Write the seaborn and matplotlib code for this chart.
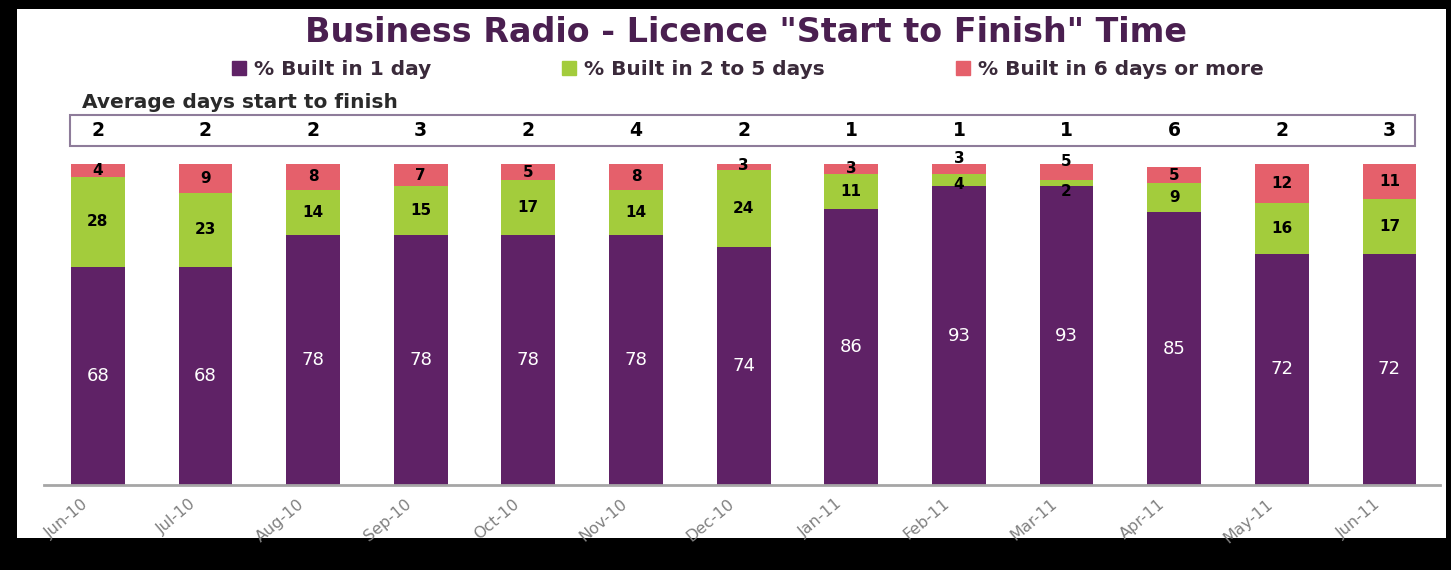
import seaborn as sns
import matplotlib.pyplot as plt
import matplotlib.transforms as mtransforms
from matplotlib.patches import Rectangle
import pandas as pd

months = ['Jun-10', 'Jul-10', 'Aug-10', 'Sep-10', 'Oct-10', 'Nov-10', 'Dec-10',
          'Jan-11', 'Feb-11', 'Mar-11', 'Apr-11', 'May-11', 'Jun-11']
built_1_day = [68, 68, 78, 78, 78, 78, 74, 86, 93, 93, 85, 72, 72]
built_2_5_days = [28, 23, 14, 15, 17, 14, 24, 11, 4, 2, 9, 16, 17]
built_6_plus = [4, 9, 8, 7, 5, 8, 3, 3, 3, 5, 5, 12, 11]
avg_days = [2, 2, 2, 3, 2, 4, 2, 1, 1, 1, 6, 2, 3]

PURPLE = '#5f2266'
GREEN = '#a3cc3c'
RED = '#e5606b'
TITLE = '#4a1f50'

df = pd.DataFrame({'month': months, 'one': built_1_day,
                   'two': built_2_5_days, 'six': built_6_plus})
df['mid'] = df['one'] + df['two']
df['top'] = df['mid'] + df['six']

sns.set_style('white')
plt.rcParams['font.family'] = ['DejaVu Sans']

W, H = 1451, 570
fig = plt.figure(figsize=(W / 100, H / 100), dpi=100, facecolor='black')
fig.patches.append(Rectangle((17 / W, 1 - 538 / H), (1446 - 17) / W, (538 - 9) / H,
                             transform=fig.transFigure, facecolor='white',
                             edgecolor='none', zorder=-1))

ax = fig.add_axes([44 / W, 1 - 485 / H, (1440 - 44) / W, (485 - 164) / H])
ax.set_facecolor('none')

# stacked bars drawn as overlapping cumulative totals
sns.barplot(data=df, x='month', y='top', color=RED, saturation=1, width=0.5, linewidth=0, ax=ax)
sns.barplot(data=df, x='month', y='mid', color=GREEN, saturation=1, width=0.5, linewidth=0, ax=ax)
sns.barplot(data=df, x='month', y='one', color=PURPLE, saturation=1, width=0.5, linewidth=0, ax=ax)

ax.set_xlim(-0.5, 12.47)
ax.set_ylim(0, 100)
ax.set_xlabel('')
ax.set_ylabel('')
ax.set_yticks([])
for s in ['top', 'right', 'left']:
    ax.spines[s].set_visible(False)
ax.spines['bottom'].set_color('#a6a6a6')
ax.spines['bottom'].set_linewidth(2)
ax.tick_params(axis='x', length=0, pad=8, colors='#808080', labelsize=11.5)
shift = mtransforms.ScaledTranslation(-16 / 100, 0, fig.dpi_scale_trans)
for lab in ax.get_xticklabels():
    lab.set_rotation(40)
    lab.set_ha('right')
    lab.set_rotation_mode('anchor')
    lab.set_transform(lab.get_transform() + shift)

for i in range(len(months)):
    ax.text(i, built_1_day[i] / 2, str(built_1_day[i]), ha='center', va='center',
            color='white', fontsize=13)
    g = built_2_5_days[i]
    gy = built_1_day[i] + g / 2 if g >= 5 else built_1_day[i] + g - 1.2
    ax.text(i, gy, str(g), ha='center', va='center' if g >= 5 else 'top',
            color='black', fontsize=11, fontweight='bold')
    r = built_6_plus[i]
    ry = df['mid'][i] + r / 2 if g >= 5 else df['mid'][i] + r / 2 + 0.8
    ax.text(i, ry, str(r), ha='center', va='center' if g >= 5 else 'bottom',
            color='black', fontsize=11, fontweight='bold')

# average days row
blend = mtransforms.blended_transform_factory(ax.transData, fig.transFigure)
for i, v in enumerate(avg_days):
    ax.text(i, 1 - 130 / H, str(v), transform=blend, ha='center', va='center',
            fontsize=13.5, fontweight='bold', color='black')
fig.patches.append(Rectangle((70 / W, 1 - 146 / H), (1415 - 70) / W, 31 / H,
                             transform=fig.transFigure, facecolor='none',
                             edgecolor='#8e7c9a', linewidth=1.5, zorder=1))
fig.text(82 / W, 1 - 103 / H, 'Average days start to finish', ha='left', va='center',
         fontsize=14.5, fontweight='bold', color='#2a2a2a')

fig.text(746 / W, 1 - 33 / H, 'Business Radio - Licence "Start to Finish" Time',
         ha='center', va='center', fontsize=24, fontweight='bold', color=TITLE)

handles = [Rectangle((0, 0), 1, 1, color=c) for c in (PURPLE, GREEN, RED)]
fig.legend(handles, ['% Built in 1 day', '% Built in 2 to 5 days', '% Built in 6 days or more'],
           loc='center', bbox_to_anchor=(748 / W, 1 - 70 / H), ncol=3, frameon=False,
           handlelength=0.7, handleheight=0.7, handletextpad=0.4, columnspacing=6.5,
           prop={'weight': 'bold', 'size': 14.5}, labelcolor='#3a2a3a')

fig.savefig('out.png', dpi=100, facecolor='black')
